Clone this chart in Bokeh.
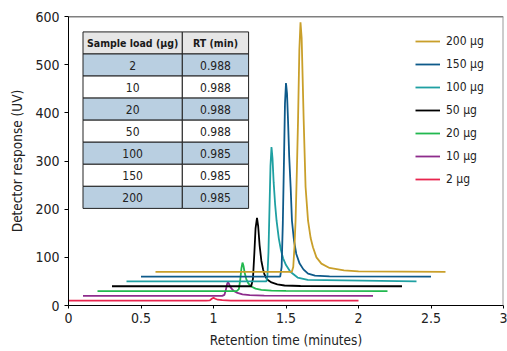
from bokeh.plotting import figure
from bokeh.models import Range1d, Legend, LegendItem, Span, ColumnDataSource
from bokeh.core.properties import value
from bokeh.embed import file_html
from bokeh.resources import INLINE

# ---------------- data ----------------
series_labels = ["2 µg", "10 µg", "20 µg", "50 µg", "100 µg", "150 µg", "200 µg"]
series_colors = ["#e8254e", "#8e2c8c", "#22b84f", "#000000", "#1fa0a2", "#0e5a8a", "#c99f2a"]

x_2 = [0.0, 0.95, 0.975, 0.988, 1.0, 1.012, 1.03, 1.06, 1.12, 2.0]
y_2 = [10, 10, 10.5, 14, 16, 14, 12, 11, 10, 10]

x_10 = [0.1, 1.06, 1.075, 1.085, 1.093, 1.10, 1.107, 1.115, 1.125, 1.14, 1.165, 1.20, 1.25, 1.35, 2.1]
y_10 = [20, 20, 22, 32, 44, 49, 45, 39, 35, 30, 26, 23, 21.5, 20.5, 20]

x_20 = [0.2, 1.16, 1.175, 1.185, 1.193, 1.20, 1.207, 1.215, 1.226, 1.24, 1.26, 1.29, 1.33, 1.40, 1.5, 2.2]
y_20 = [30, 30, 34, 55, 78, 89, 82, 68, 55, 46, 39.5, 35, 32.6, 31, 30.3, 30]

x_50 = [0.3, 1.26, 1.272, 1.282, 1.29, 1.30, 1.308, 1.318, 1.33, 1.342, 1.352, 1.37, 1.40, 1.44, 1.49, 1.6, 2.3]
y_50 = [40, 40, 55, 110, 160, 182, 165, 125, 93, 75, 64, 54, 48, 44, 41.5, 40.5, 40]

x_100 = [0.4, 1.365, 1.372, 1.379, 1.386, 1.393, 1.40, 1.407, 1.415, 1.425, 1.435, 1.45, 1.465, 1.48, 1.50, 1.53, 1.58, 1.65, 2.4]
y_100 = [50, 50, 62, 110, 200, 290, 329, 305, 255, 210, 176, 140, 115, 98, 84, 70, 58, 53, 50]

x_150 = [0.5, 1.46, 1.47, 1.478, 1.486, 1.493, 1.50, 1.507, 1.514, 1.522, 1.532, 1.541, 1.555, 1.571, 1.594, 1.62, 1.652, 1.70, 1.8, 2.5]
y_150 = [60, 60, 80, 170, 300, 420, 462, 440, 384, 310, 246, 176, 135, 107, 87, 75, 66, 62, 60.5, 60]

x_200 = [0.6, 1.54, 1.55, 1.558, 1.566, 1.575, 1.583, 1.592, 1.60, 1.608, 1.615, 1.622, 1.635, 1.652, 1.67, 1.686, 1.71, 1.744, 1.8, 1.9, 2.0, 2.6]
y_200 = [70, 70, 80, 120, 176, 280, 384, 530, 588, 555, 470, 384, 246, 176, 140, 121, 100, 87, 78, 73, 71, 70]

table_header = ["Sample load (µg)", "RT (min)"]
table_loads = ["2", "10", "20", "50", "100", "150", "200"]
table_rt = ["0.988", "0.988", "0.988", "0.988", "0.985", "0.985", "0.985"]

x_ticks = [0, 0.5, 1, 1.5, 2, 2.5, 3]
x_tick_labels = ["0", "0.5", "1", "1.5", "2", "2.5", "3"]
y_ticks = [0, 100, 200, 300, 400, 500, 600]

FONT = "'DejaVu Sans Condensed', Roboto, sans-serif"

# ---------------- figure ----------------
p = figure(width=507, height=351, x_range=Range1d(0, 3), y_range=Range1d(0, 600),
           output_backend="svg", toolbar_location=None,
           min_border_left=68, min_border_right=4, min_border_top=16, min_border_bottom=46)
p.xgrid.visible = False
p.ygrid.visible = False
p.outline_line_color = None
p.background_fill_color = "white"
p.border_fill_color = "white"

for ax in (p.xaxis[0], p.yaxis[0]):
    ax.axis_line_color = "black"
    ax.axis_line_width = 1
    ax.major_tick_line_color = "black"
    ax.minor_tick_line_color = None
    ax.major_tick_in = 0
    ax.major_label_text_font = FONT
    ax.major_label_text_font_size = "14px"
    ax.major_label_text_color = "#222222"
    ax.axis_label_text_font = FONT
    ax.axis_label_text_font_size = "13.5px"
    ax.axis_label_text_font_style = "normal"
    ax.axis_label_text_color = "#222222"

p.xaxis.ticker = x_ticks
p.xaxis.major_label_overrides = {t: l for t, l in zip(x_ticks, x_tick_labels)}
p.xaxis.major_tick_out = 3
p.xaxis.major_label_standoff = 4
p.xaxis.axis_label = "Retention time (minutes)"
p.xaxis.axis_label_standoff = 6
p.yaxis.ticker = y_ticks
p.yaxis.major_tick_out = 4
p.yaxis.axis_label = "Detector response (UV)"
p.yaxis.axis_label_standoff = 7

p.add_layout(Span(location=600, dimension="width", line_color="black", line_width=1.5))
p.add_layout(Span(location=3, dimension="height", line_color="#9a9a9a", line_width=2))

# ---------------- table ----------------
t_left, t_mid, t_right = 0.10, 0.785, 1.242
t_top, row_h = 568.0, 45.8
n_rows = len(table_loads) + 1
tops = [t_top - i * row_h for i in range(n_rows)]
bots = [t - row_h for t in tops]
fills = ["#e6e6e6"] + ["#b9cfe1" if i % 2 == 0 else "#ffffff" for i in range(len(table_loads))]
tsrc = ColumnDataSource(dict(top=tops + tops, bottom=bots + bots,
                             left=[t_left] * n_rows + [t_mid] * n_rows,
                             right=[t_mid] * n_rows + [t_right] * n_rows,
                             fill=fills + fills))
p.quad(left="left", right="right", top="top", bottom="bottom", fill_color="fill",
       line_color="#222222", line_width=1, source=tsrc)
cx1, cx2 = (t_left + t_mid) / 2, (t_mid + t_right) / 2
p.text(x=[cx1, cx2], y=[tops[0] - row_h / 2] * 2, text=table_header,
       text_font=value(FONT), text_font_size="10.5px", text_font_style="bold",
       text_align="center", text_baseline="middle", text_color="#1a1a1a")
mids = [t - row_h / 2 for t in tops[1:]]
p.text(x=[cx1] * len(table_loads) + [cx2] * len(table_rt), y=mids + mids,
       text=table_loads + table_rt, text_font=value(FONT), text_font_size="12px",
       text_align="center", text_baseline="middle", text_color="#222222")

# ---------------- traces ----------------
xs = [x_2, x_10, x_20, x_50, x_100, x_150, x_200]
ys = [y_2, y_10, y_20, y_50, y_100, y_150, y_200]
renderers = []
for xv, yv, c in zip(xs, ys, series_colors):
    renderers.append(p.line(xv, yv, line_color=c, line_width=1.8))

items = [LegendItem(label=lab, renderers=[r]) for lab, r in zip(series_labels, renderers)][::-1]
legend = Legend(items=items, location=(347, 116), padding=0, margin=0,
                glyph_width=25, glyph_height=20, label_height=20, spacing=3,
                label_standoff=6, label_text_font=FONT, label_text_font_size="12px",
                label_text_color="#222222", border_line_color=None,
                background_fill_alpha=0)
p.add_layout(legend)

open("out.html", "w").write(file_html(p, INLINE))
